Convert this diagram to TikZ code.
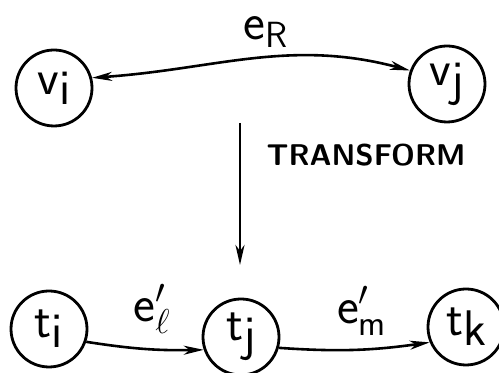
\documentclass[tikz,border=0pt]{standalone}
\usepackage{fontspec}
\usetikzlibrary{arrows.meta}

\newcommand{\lowsub}[1]{\raisebox{-0.45ex}{#1}}

\begin{document}
\begin{tikzpicture}[
    x=0.5pt, y=0.5pt,
    vert/.style={circle, draw, line width=1.4pt, minimum size=38pt, inner sep=0pt,
                 font=\sffamily\fontsize{25}{25}\selectfont},
    edge label/.style={inner sep=1pt, font=\sffamily\fontsize{26}{26}\selectfont},
    >={Stealth[length=10pt, width=4.5pt, inset=3pt]},
    line width=1.3pt
]
\useasboundingbox (0,0) rectangle (499,373);

% Grafo original
\node[vert] (vi) at (54,285) {v\lowsub{i}};
\node[vert] (vj) at (447,289) {v\lowsub{j}};
\node[edge label] (eR) at (266,341) {$\mathsf{e}_{\mathsf{R}}$};

\draw[<->] (vi.15) to[out=4, in=165] (vj.160);

% Transformacao
\coordinate (top) at (240,250);
\coordinate (bot) at (240,108);
\draw[->] (top) -- (bot);
\node[font=\sffamily\bfseries\fontsize{15}{15}\selectfont\addfontfeature{LetterSpace=18}]
    (tr) at (366,218) {TRANSFORM};

% Grafo transformado
\node[vert] (ti) at (49,44) {t\lowsub{i}};
\node[vert] (tj) at (241,36) {t\lowsub{j}};
\node[vert] (tk) at (466,46) {t\lowsub{k}};

\node[edge label] (el) at (152,64) {$\mathsf{e}'_{\ell}$};
\node[edge label] (em) at (362,62) {$\mathsf{e}'_{\mathsf{m}}$};

\draw[->] (ti.-19) to[bend right=5] (tj.199);
\draw[->] (tj.-16) to[bend right=6] (tk.203);

\end{tikzpicture}
\end{document}
